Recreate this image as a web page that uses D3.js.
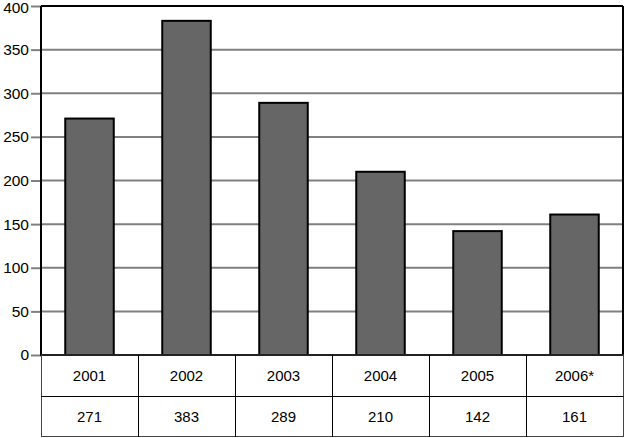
<!DOCTYPE html>
<html><head><meta charset="utf-8">
<script src="https://d3js.org/d3.v7.min.js"></script>
<style>body{margin:0;background:#fff}svg{display:block}text{font-family:"Liberation Sans",Arial,sans-serif;fill:#000}</style>
</head><body>
<script>
const categories = ["2001","2002","2003","2004","2005","2006*"];
const values = [271,383,289,210,142,161];
const yTicks = [0,50,100,150,200,250,300,350,400];

const W=625,H=438;
const L=41,R=623,T=6,B=355;
const svg=d3.select("body").append("svg").attr("width",W).attr("height",H);
const x=d3.scaleBand().domain(categories).range([L,R]).paddingInner(0).paddingOuter(0);
const y=d3.scaleLinear().domain([0,400]).range([B,T]);

// gridlines
svg.append("g").selectAll("line").data(yTicks.filter(d=>d>0&&d<400)).join("line")
  .attr("x1",L).attr("x2",R).attr("y1",d=>y(d)).attr("y2",d=>y(d))
  .attr("stroke","#808080").attr("stroke-width",2);

// y axis
const ax=svg.append("g").attr("transform",`translate(${L},0)`)
  .call(d3.axisLeft(y).tickValues(yTicks).tickSize(10).tickPadding(2));
ax.select(".domain").remove();
ax.selectAll(".tick line").attr("stroke","#808080").attr("stroke-width",2);
ax.selectAll(".tick text").style("font-size","15.5px").style("font-family","Liberation Sans, Arial, sans-serif").attr("fill","#000");
ax.selectAll(".tick text").filter(d=>d===400).attr("y",2);

// bars
const bw=x.bandwidth()*0.5;
svg.append("g").selectAll("rect").data(values).join("rect")
  .attr("x",(d,i)=>x(categories[i])+x.bandwidth()/2-bw/2)
  .attr("width",bw)
  .attr("y",d=>y(d)).attr("height",d=>y(0)-y(d))
  .attr("fill","#666666").attr("stroke","#000").attr("stroke-width",2);

// frame: top, left, right, bottom
svg.append("line").attr("x1",L).attr("x2",R).attr("y1",T).attr("y2",T).attr("stroke","#000").attr("stroke-width",2);
svg.append("line").attr("x1",L).attr("x2",L).attr("y1",T).attr("y2",B).attr("stroke","#000").attr("stroke-width",2);
svg.append("line").attr("x1",R).attr("x2",R).attr("y1",T).attr("y2",B).attr("stroke","#000").attr("stroke-width",2);
svg.append("line").attr("x1",L-1).attr("x2",R).attr("y1",B).attr("y2",B).attr("stroke","#000").attr("stroke-width",2);

// table
const r1=355,r2=396,r3=437;
const tg=svg.append("g");
tg.append("rect").attr("x",L+0.5).attr("y",r1).attr("width",R-L).attr("height",r3-r1-0.5)
  .attr("fill","none").attr("stroke","#444").attr("stroke-width",1);
tg.append("line").attr("x1",L).attr("x2",R+0.5).attr("y1",r2+0.5).attr("y2",r2+0.5).attr("stroke","#000").attr("stroke-width",1);
tg.selectAll("line.v").data(categories.slice(1)).join("line").attr("class","v")
  .attr("x1",d=>Math.round(x(d))+0.5).attr("x2",d=>Math.round(x(d))+0.5).attr("y1",r1).attr("y2",r3)
  .attr("stroke","#000").attr("stroke-width",1);
tg.selectAll("text.c").data(categories).join("text").attr("class","c")
  .attr("x",d=>x(d)+x.bandwidth()/2).attr("y",(r1+r2)/2+5).attr("text-anchor","middle")
  .style("font-size","15px").text(d=>d);
tg.selectAll("text.v").data(values).join("text").attr("class","v")
  .attr("x",(d,i)=>x(categories[i])+x.bandwidth()/2).attr("y",(r2+r3)/2+5).attr("text-anchor","middle")
  .style("font-size","15px").text(d=>d);
</script>
</body></html>
